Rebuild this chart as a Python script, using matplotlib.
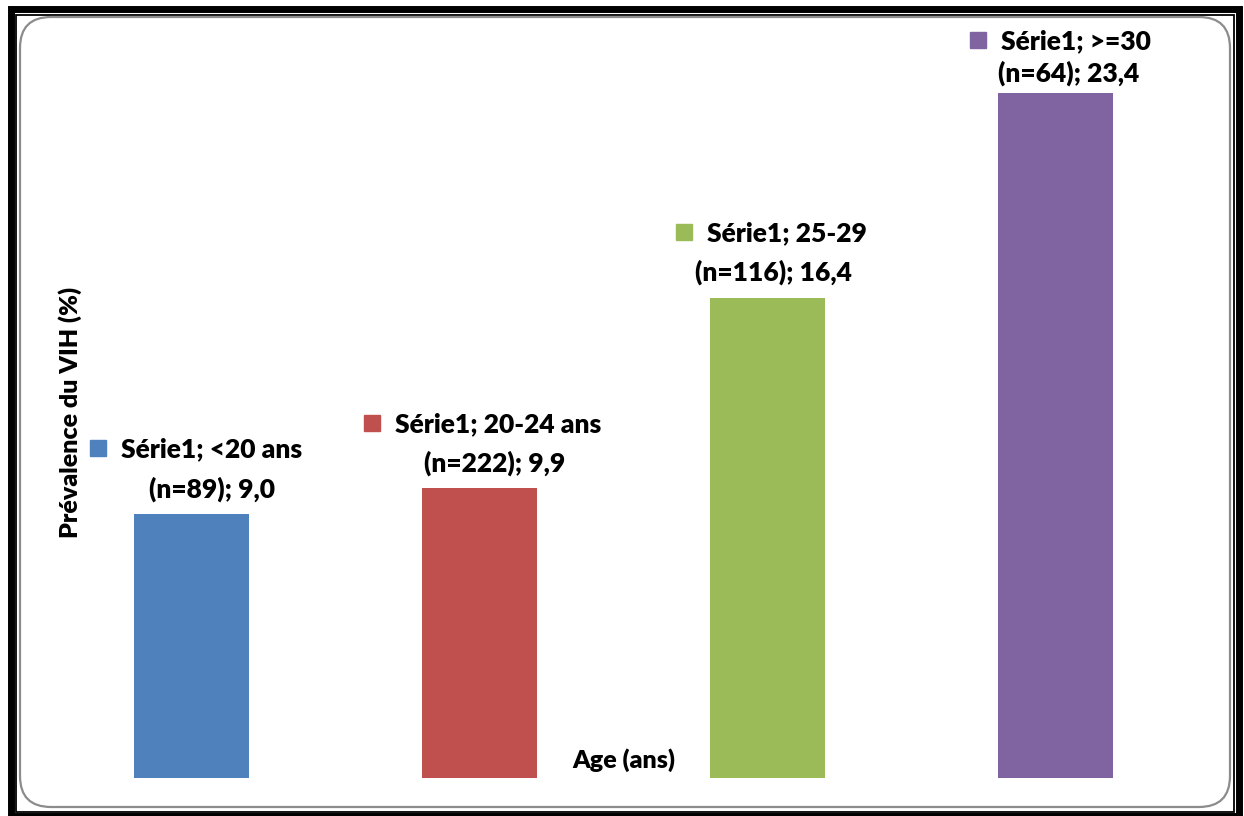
import matplotlib.pyplot as plt
from matplotlib.patches import FancyBboxPatch, Rectangle
from matplotlib.transforms import offset_copy

# age groups, sample sizes and HIV prevalence (%)
groups = ["<20 ans", "20-24 ans", "25-29", ">=30"]
counts = [89, 222, 116, 64]
prevalence = [9.0, 9.9, 16.4, 23.4]
series_name = "Série1"
colors = ["#4F81BD", "#C0504D", "#9BBB59", "#8064A2"]

# label placement (pixels from bar top centre): first line left edge / height, second line centre / height
line1_dx = [-71, -85, -60, -54]
line1_dy = [65, 64, 65, 52]
line2_dx = [20, 15, 6, 14]
line2_dy = [25, 25, 26, 20]

W, H = 1244, 816
fig = plt.figure(figsize=(W / 100, H / 100), dpi=100)
font = "Lato"
weight = "heavy"


def fx(px):
    return px / W


def fy(py):
    return 1 - py / H


# double black frame and rounded grey chart area
fig.patches.append(Rectangle((fx(10.5), fy(816)), fx(1239 - 10.5), fy(8.5) - fy(816),
                             transform=fig.transFigure, fill=False, ec="black", lw=5))
fig.patches.append(Rectangle((fx(16), fy(811.5)), fx(1234 - 16), fy(15) - fy(811.5),
                             transform=fig.transFigure, fill=False, ec="black", lw=1.3))
fig.patches.append(FancyBboxPatch((fx(20), fy(807)), fx(1230 - 20), fy(17) - fy(807),
                                  boxstyle="round,pad=0,rounding_size=0.025",
                                  mutation_aspect=W / H,
                                  transform=fig.transFigure, fill=False, ec="#8c8c8c", lw=1.6))

ax = fig.add_axes([fx(48), fy(778), fx(1199 - 48), fy(46) - fy(778)])
x = list(range(len(groups)))
ax.bar(x, prevalence, width=0.4, color=colors)
ax.set_xlim(-0.5, 3.5)
ax.set_ylim(0, 25)
ax.axis("off")

for i, (g, n, v) in enumerate(zip(groups, counts, prevalence)):
    val = f"{v:.1f}".replace(".", ",")
    ax.annotate(f"{series_name}; {g}", (i, v), xytext=(line1_dx[i], line1_dy[i]),
                textcoords="offset pixels", ha="left", va="center",
                fontsize=19, fontweight=weight, family=font)
    ax.annotate(f"(n={n}); {val}", (i, v), xytext=(line2_dx[i], line2_dy[i]),
                textcoords="offset pixels", ha="center", va="center",
                fontsize=19, fontweight=weight, family=font)
    key = offset_copy(ax.transData, fig=fig, x=line1_dx[i] - 23, y=line1_dy[i] + 1, units="dots")
    ax.plot([i], [v], marker="s", ms=11.5, color=colors[i], transform=key, clip_on=False)

fig.text(fx(70), fy(412), "Prévalence du VIH (%)", rotation=90, ha="center", va="center",
         fontsize=18, fontweight=weight, family=font)
fig.text(fx(624), fy(760), "Age (ans)", ha="center", va="center",
         fontsize=18, fontweight=weight, family=font)

fig.savefig("out.png", dpi=100)
